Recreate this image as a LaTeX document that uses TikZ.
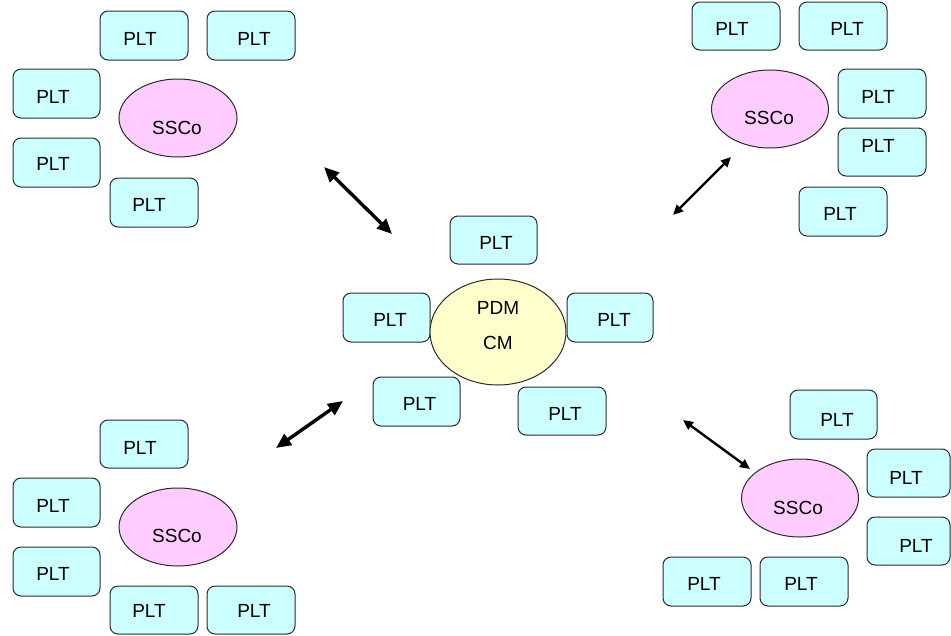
\documentclass[tikz,border=0pt]{standalone}
\usepackage{fontspec}
\setmainfont{Liberation Sans}
\usetikzlibrary{shapes.geometric,arrows.meta,fit}
\definecolor{boxfill}{HTML}{CCFFFF}
\definecolor{ssfill}{HTML}{FFCCFF}
\definecolor{cmfill}{HTML}{FFFFCC}
\definecolor{edge}{HTML}{2A2A2A}
\tikzset{
  pltbox/.style={draw=edge, fill=boxfill, line width=1pt, rounded corners=8pt, inner sep=0pt},
  lbl/.style={inner sep=0pt, font=\fontsize{19}{21}\selectfont},
  ssco/.style={ellipse, draw=edge, fill=ssfill, line width=1pt, inner sep=0pt},
  cmell/.style={ellipse, draw=edge, fill=cmfill, line width=1pt, inner sep=0pt},
  thickarrow/.style={line width=3.4pt, {Triangle[length=15pt,width=13pt]}-{Triangle[length=15pt,width=13pt]}},
  thinarrow/.style={line width=2.4pt, {Triangle[length=10pt,width=9pt]}-{Triangle[length=10pt,width=9pt]}}
}
\newcommand\pltb[7]{%
  \node[pltbox, fit={(#2,#3)(#4,#5)}] (#1) {};
  \node[lbl] (#1t) at (#6,#7) {PLT};
}
\begin{document}
\begin{tikzpicture}[x=1pt,y=-1pt]
\useasboundingbox (0,0) rectangle (951,635);
% top-left cluster
\pltb{b1}{100}{11}{188}{60}{140}{39}
\pltb{b2}{207}{11}{295}{60}{254}{39}
\pltb{b3}{13}{69}{100}{118}{53}{97}
\pltb{b4}{13}{138}{100}{187}{53}{164}
\pltb{b5}{110}{178}{198}{227}{149}{205}
\node[ssco, minimum width=118pt, minimum height=78pt] (e1) at (178,118) {};
\node[lbl] (e1t) at (177,128) {SSCo};
% center cluster
\pltb{b6}{450}{216}{537}{264}{496}{243}
\pltb{b7}{343}{293}{430}{342}{390}{320}
\pltb{b8}{567}{293}{653}{342}{614}{320}
\pltb{b9}{373}{377}{460}{426}{419.5}{404}
\pltb{b10}{518}{387}{606}{435}{565}{414}
\node[cmell, minimum width=136pt, minimum height=106pt] (ec) at (498,332) {};
\node[lbl] (ect1) at (498,307.5) {PDM};
\node[lbl] (ect2) at (498,343) {CM};
% top-right cluster
\pltb{b11}{692}{2}{780}{50}{732}{29}
\pltb{b12}{799}{2}{887}{50}{847}{29}
\pltb{b13}{838}{69}{926}{118}{878}{97}
\pltb{b14}{838}{128}{926}{176}{878}{145.5}
\pltb{b15}{799}{187}{887}{236}{840}{214}
\node[ssco, minimum width=117pt, minimum height=78pt] (e2) at (770,109) {};
\node[lbl] (e2t) at (769,117.5) {SSCo};
% bottom-right cluster
\pltb{b16}{790}{390}{877}{439}{837}{420}
\pltb{b17}{867}{449}{950}{497}{906}{477.5}
\pltb{b18}{867}{517}{950}{565}{916}{545.5}
\pltb{b19}{663}{557}{751}{606}{704}{584}
\pltb{b20}{760}{557}{848}{606}{801}{584}
\node[ssco, minimum width=117pt, minimum height=78pt] (e3) at (800,498) {};
\node[lbl] (e3t) at (798,507.5) {SSCo};
% bottom-left cluster
\pltb{b21}{100}{420}{188}{468}{140}{448}
\pltb{b22}{13}{478}{100}{527}{53}{506}
\pltb{b23}{13}{547}{100}{596}{53}{574}
\pltb{b24}{110}{586}{198}{634}{149}{611}
\pltb{b25}{207}{586}{295}{634}{254}{611}
\node[ssco, minimum width=118pt, minimum height=78pt] (e4) at (178,527) {};
\node[lbl] (e4t) at (177,535.5) {SSCo};
% arrows
\coordinate (a1s) at (324,167);
\coordinate (a1e) at (392,234);
\coordinate (a2s) at (673,215);
\coordinate (a2e) at (731,157);
\coordinate (a3s) at (276,448);
\coordinate (a3e) at (343,401);
\coordinate (a4s) at (683,420);
\coordinate (a4e) at (750,469);
\draw[thickarrow] (a1s) -- (a1e);
\draw[thinarrow] (a2s) -- (a2e);
\draw[thickarrow] (a3s) -- (a3e);
\draw[thinarrow] (a4s) -- (a4e);
\end{tikzpicture}
\end{document}
